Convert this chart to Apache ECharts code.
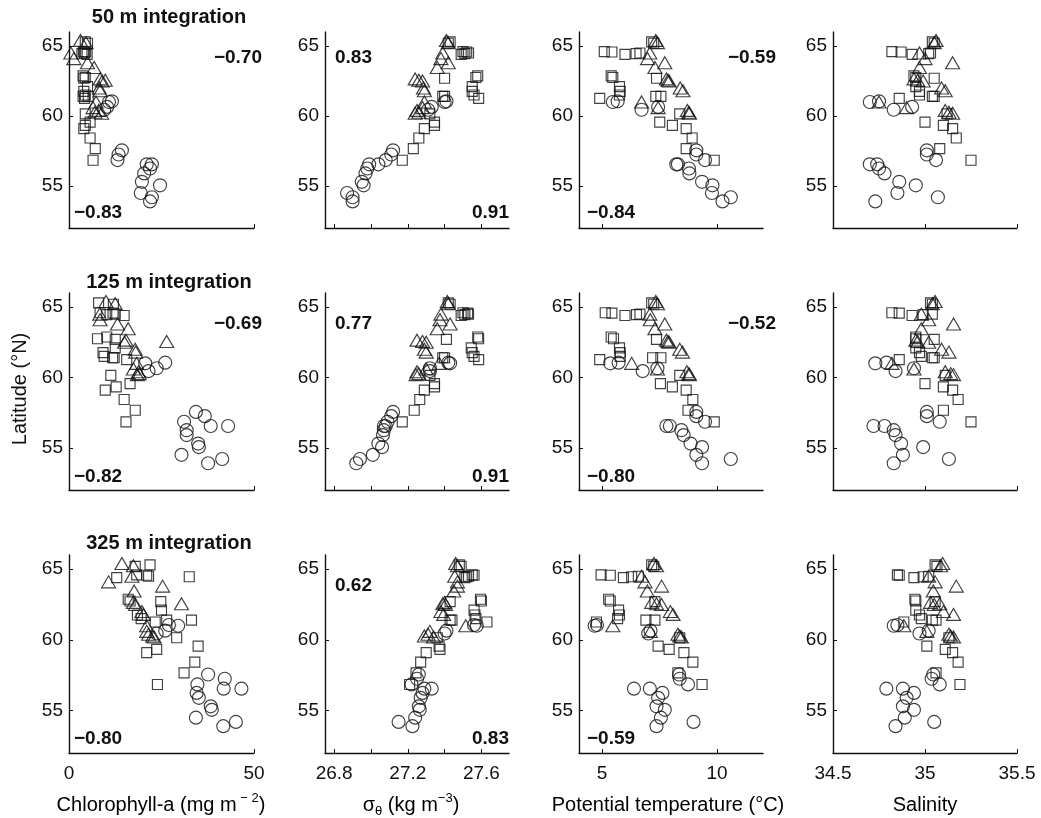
<!DOCTYPE html>
<html><head><meta charset="utf-8">
<script src="https://cdn.jsdelivr.net/npm/echarts@6/dist/echarts.min.js"></script>
<style>html,body{margin:0;padding:0;background:#fff}#c{width:1041px;height:818px}</style>
</head><body><div id="c"></div>
<script>
// Station latitudes (°N) for the three station groups (circles, squares, triangles)
const latC = [61.0, 61.05, 60.45, 60.65, 57.55, 57.25, 56.85, 56.55, 56.55, 56.25, 55.9, 55.3, 55.05, 54.5, 53.9, 54.2];
const latS = [64.6, 64.57, 64.4, 64.46, 64.5, 65.3, 65.2, 62.87, 62.75, 62.7, 62.1, 61.76, 61.5, 61.26, 61.4, 61.4, 59.56, 59.33, 60.15, 59.1, 58.43, 57.67, 56.84];
const latT = [65.4, 65.24, 64.5, 64.1, 63.8, 63.46, 62.65, 62.55, 62.5, 62.0, 61.8, 61.0, 60.6, 60.4, 60.27, 60.2];

// 50 m integration
const chl50C = [10.8, 11.6, 9.5, 10.3, 14.3, 13.4, 13.1, 21.0, 22.4, 21.9, 20.3, 19.7, 24.6, 19.4, 21.9, 22.4];
const chl50S = [3.9, 4.5, 4.9, 3.5, 4.2, 4.4, 5.0, 3.8, 4.4, 4.0, 5.0, 4.0, 4.4, 4.2, 3.8, 5.2, 5.7, 4.4, 4.4, 4.0, 5.7, 7.1, 6.5];
const chl50T = [3.1, 4.6, 0.5, 1.3, 5.0, 6.8, 8.4, 9.8, 9.0, 8.2, 8.4, 7.3, 6.5, 8.0, 7.0, 8.8];
const sig50C = [27.40, 27.41, 27.31, 27.33, 27.12, 27.11, 27.08, 27.04, 26.99, 26.98, 26.97, 26.95, 26.96, 26.87, 26.90, 26.90];
const sig50S = [27.50, 27.52, 27.49, 27.51, 27.53, 27.43, 27.42, 27.58, 27.57, 27.40, 27.55, 27.55, 27.56, 27.585, 27.39, 27.40, 27.345, 27.345, 27.32, 27.29, 27.26, 27.23, 27.17];
const sig50T = [27.41, 27.42, 27.39, 27.38, 27.42, 27.36, 27.24, 27.26, 27.28, 27.285, 27.29, 27.29, 27.28, 27.25, 27.26, 27.24];
const tem50C = [5.47, 5.68, 6.72, 7.44, 9.1, 9.1, 9.48, 8.23, 8.3, 8.78, 8.8, 9.35, 9.8, 9.78, 10.24, 10.6];
const tem50S = [5.1, 5.43, 6.0, 6.48, 6.65, 7.16, 7.25, 5.4, 5.47, 7.37, 5.76, 5.79, 5.76, 4.9, 7.34, 7.56, 7.51, 8.06, 8.38, 8.66, 8.92, 8.66, 9.88];
const tem50T = [7.34, 7.41, 7.08, 6.98, 7.73, 7.30, 7.80, 7.87, 7.92, 8.4, 8.52, 6.72, 7.44, 8.71, 8.78, 8.8];
const sal50C = [34.70, 34.75, 34.83, 34.93, 35.01, 35.01, 35.06, 34.70, 34.74, 34.75, 34.78, 34.86, 34.95, 34.85, 34.73, 35.07];
const sal50S = [34.82, 34.87, 34.93, 35.02, 35.03, 35.04, 35.05, 34.94, 34.95, 35.05, 34.95, 34.97, 34.97, 34.86, 35.04, 35.05, 35.0, 35.10, 35.12, 35.15, 35.17, 35.08, 35.25];
const sal50T = [35.06, 35.05, 34.97, 35.0, 35.15, 34.97, 34.94, 34.96, 34.99, 35.09, 35.11, 34.75, 34.90, 35.11, 35.13, 35.15];

// 125 m integration
const chl125C = [20.6, 26.0, 21.5, 23.7, 34.3, 36.7, 31.1, 38.3, 43.0, 31.8, 31.8, 34.9, 35.1, 30.4, 37.6, 41.4];
const chl125S = [8.4, 11.9, 14.9, 10.2, 12.5, 8.0, 12.0, 10.2, 7.7, 12.5, 12.5, 9.2, 9.5, 15.6, 12.2, 11.8, 16.5, 12.75, 11.3, 9.8, 14.9, 17.9, 15.4];
const chl125T = [10.0, 12.5, 8.3, 8.4, 13.1, 16.0, 15.4, 26.4, 15.0, 17.9, 18.0, 18.3, 17.4, 18.8, 19.0, 18.5];
const sig125C = [27.43, 27.42, 27.32, 27.32, 27.12, 27.11, 27.09, 27.08, 27.07, 27.07, 27.065, 27.04, 27.06, 27.01, 26.92, 26.94];
const sig125S = [27.50, 27.525, 27.49, 27.51, 27.53, 27.42, 27.43, 27.58, 27.585, 27.41, 27.545, 27.55, 27.56, 27.585, 27.39, 27.40, 27.345, 27.345, 27.32, 27.29, 27.265, 27.235, 27.17];
const sig125T = [27.415, 27.42, 27.38, 27.375, 27.43, 27.36, 27.25, 27.28, 27.30, 27.29, 27.30, 27.37, 27.30, 27.25, 27.26, 27.245];
const tem125C = [5.36, 5.72, 6.77, 7.41, 9.1, 9.1, 9.48, 7.8, 7.95, 8.45, 8.55, 8.85, 9.35, 9.1, 9.35, 10.6];
const tem125S = [5.14, 5.43, 6.0, 6.5, 6.65, 7.16, 7.25, 5.4, 5.5, 7.37, 5.76, 5.79, 5.79, 4.9, 7.2, 7.56, 7.54, 8.06, 8.38, 8.66, 8.95, 8.74, 9.88];
const tem125T = [7.34, 7.41, 7.08, 7.1, 7.73, 7.30, 7.80, 7.87, 7.92, 8.38, 8.5, 6.29, 7.41, 8.69, 8.78, 8.8];
const sal125C = [34.73, 34.79, 34.84, 34.94, 35.01, 35.01, 35.08, 34.72, 34.78, 34.83, 34.84, 34.87, 34.99, 34.88, 34.83, 35.13];
const sal125S = [34.82, 34.86, 34.93, 34.99, 35.04, 35.03, 35.04, 34.95, 34.95, 35.05, 34.95, 34.97, 34.98, 34.86, 35.04, 35.05, 35.0, 35.10, 35.11, 35.15, 35.18, 35.10, 35.25];
const sal125T = [35.055, 35.04, 34.98, 35.02, 35.155, 34.98, 34.95, 34.96, 35.02, 35.09, 35.13, 34.82, 34.94, 35.11, 35.14, 35.155];

// 325 m integration
const chl325C = [29.5, 27.0, 23.7, 26.0, 37.6, 42.1, 34.7, 41.8, 46.6, 34.5, 35.1, 38.3, 38.6, 34.3, 41.7, 45.1];
const chl325S = [18.3, 21.0, 12.9, 32.5, 21.5, 21.9, 17.9, 16.0, 16.5, 24.8, 25.0, 18.5, 19.5, 23.3, 26.4, 33.1, 34.9, 23.7, 29.1, 21.0, 34.0, 31.1, 23.9];
const chl325T = [14.3, 17.4, 17.0, 10.7, 25.3, 17.6, 17.4, 30.4, 18.0, 19.7, 20.1, 21.0, 21.0, 21.5, 22.6, 23.0];
const sig325C = [27.575, 27.56, 27.40, 27.41, 27.26, 27.25, 27.22, 27.33, 27.29, 27.28, 27.27, 27.26, 27.265, 27.24, 27.225, 27.15];
const sig325S = [27.55, 27.56, 27.51, 27.52, 27.53, 27.48, 27.49, 27.595, 27.60, 27.43, 27.56, 27.565, 27.57, 27.63, 27.43, 27.44, 27.37, 27.375, 27.36, 27.30, 27.27, 27.245, 27.21];
const sig325T = [27.46, 27.47, 27.455, 27.47, 27.47, 27.45, 27.40, 27.39, 27.405, 27.38, 27.395, 27.515, 27.32, 27.31, 27.29, 27.34];
const tem325C = [4.68, 4.78, 7.01, 7.11, 8.35, 8.38, 8.74, 6.39, 7.08, 7.63, 7.44, 7.37, 7.73, 7.56, 7.37, 8.98];
const tem325S = [4.96, 5.36, 5.93, 6.29, 6.58, 7.16, 7.25, 5.29, 5.36, 7.3, 5.72, 5.76, 5.68, 4.76, 6.91, 7.3, 7.44, 7.92, 8.38, 8.56, 8.95, 8.3, 9.35];
const tem325T = [7.26, 7.37, 6.72, 6.87, 7.59, 6.97, 7.16, 7.37, 7.59, 7.97, 8.09, 5.47, 7.1, 8.3, 8.38, 8.45];
const sal325C = [34.83, 34.85, 34.97, 35.02, 35.045, 35.036, 35.08, 34.79, 34.88, 34.94, 34.9, 34.88, 34.94, 34.89, 34.84, 35.05];
const sal325S = [34.85, 34.86, 34.94, 34.99, 35.02, 35.055, 35.065, 34.945, 34.95, 35.055, 34.95, 34.97, 34.98, 34.885, 35.04, 35.06, 35.01, 35.11, 35.13, 35.15, 35.18, 35.06, 35.19];
const sal325T = [35.096, 35.085, 35.02, 35.055, 35.17, 35.045, 35.03, 35.08, 35.05, 35.1, 35.155, 34.885, 35.01, 35.13, 35.14, 35.155];

// Axis ranges and ticks
const yRange = [52, 66];
const yTicks = [55, 60, 65];
const xRanges = [[0, 50], [26.75, 27.75], [4, 12], [34.5, 35.5]];
const xTicks = [[0, 50], [26.8, 27.0, 27.2, 27.4, 27.6], [5, 10], [34.5, 35, 35.5]];
const xTickLabels = [[0, 50], [26.8, 27.2, 27.6], [5, 10], [34.5, 35, 35.5]];
const rowTitles = ['50 m integration', '125 m integration', '325 m integration'];
// correlation labels per panel: [upper, lower]
const corrTop = [['\u22120.70', '0.83', '\u22120.59', ''], ['\u22120.69', '0.77', '\u22120.52', ''], ['', '0.62', '', '']];
const corrBottom = [['\u22120.83', '0.91', '\u22120.84', ''], ['\u22120.82', '0.91', '\u22120.80', ''], ['\u22120.80', '0.83', '\u22120.59', '']];

const panels = [
  [[chl50C, chl50S, chl50T], [sig50C, sig50S, sig50T], [tem50C, tem50S, tem50T], [sal50C, sal50S, sal50T]],
  [[chl125C, chl125S, chl125T], [sig125C, sig125S, sig125T], [tem125C, tem125S, tem125T], [sal125C, sal125S, sal125T]],
  [[chl325C, chl325S, chl325T], [sig325C, sig325S, sig325T], [tem325C, tem325S, tem325T], [sal325C, sal325S, sal325T]]
];
const lats = [latC, latS, latT];

// Layout
const colLeft = [69, 325, 579, 833];
const colW = [185, 184, 184, 184];
const rowTop = [32, 293, 555];
const rowH = [196, 197, 198];
const titleY = [17, 282, 543];
const corrTopOff = [26, 31, 31];
const corrBotOff = [15, 13, 14];
const rightPad = [8, 0, 13, 0];
const leftPad = [5, 10, 8, 0];
const FONT = '"Liberation Sans", Arial, Helvetica, sans-serif';
const INK = '#111';
const symbols = [['circle', 13], ['rect', 10], ['triangle', [14, 12]]];

const grids = [], xAxes = [], yAxes = [], series = [], graphics = [];
for (let r = 0; r < 3; r++) {
  for (let c = 0; c < 4; c++) {
    const idx = r * 4 + c;
    grids.push({left: colLeft[c], top: rowTop[r], width: colW[c], height: rowH[r]});
    xAxes.push({
      type: 'value', gridIndex: idx, min: xRanges[c][0], max: xRanges[c][1],
      axisLine: {show: true, onZero: false, lineStyle: {color: INK, width: 1.4}},
      axisTick: {show: true, inside: true, length: 4, customValues: xTicks[c], lineStyle: {color: INK}},
      axisLabel: {show: r === 2, customValues: xTickLabels[c], margin: 11, color: '#111', fontSize: 19, fontFamily: FONT,
        formatter: v => String(Math.round(v * 10) / 10)},
      splitLine: {show: false}
    });
    yAxes.push({
      type: 'value', gridIndex: idx, min: yRange[0], max: yRange[1],
      axisLine: {show: true, onZero: false, lineStyle: {color: INK, width: 1.4}},
      axisTick: {show: true, inside: true, length: 4, customValues: yTicks, lineStyle: {color: INK}},
      axisLabel: {show: true, customValues: yTicks, margin: 6, color: '#111', fontSize: 19, fontFamily: FONT},
      splitLine: {show: false}
    });
    for (let g = 0; g < 3; g++) {
      const xs = panels[r][c][g];
      series.push({
        type: 'scatter', xAxisIndex: idx, yAxisIndex: idx,
        symbol: symbols[g][0], symbolSize: symbols[g][1],
        itemStyle: {color: 'rgba(0,0,0,0)', borderColor: '#111', borderWidth: 1.15},
        data: xs.map((x, i) => [x, lats[g][i]]),
        silent: true
      });
    }
    // correlation labels
    if (corrTop[r][c]) {
      const leftAligned = (c === 1);
      graphics.push({type: 'text', x: leftAligned ? colLeft[c] + leftPad[c] : colLeft[c] + colW[c] + rightPad[c], y: rowTop[r] + corrTopOff[r],
        style: {text: corrTop[r][c], fontSize: 19, fontWeight: 'bold', fontFamily: FONT, fill: '#111',
          textAlign: leftAligned ? 'left' : 'right', textVerticalAlign: 'middle'}});
    }
    if (corrBottom[r][c]) {
      const rightAligned = (c === 1);
      graphics.push({type: 'text', x: rightAligned ? colLeft[c] + colW[c] : colLeft[c] + leftPad[c], y: rowTop[r] + rowH[r] - corrBotOff[r],
        style: {text: corrBottom[r][c], fontSize: 19, fontWeight: 'bold', fontFamily: FONT, fill: '#111',
          textAlign: rightAligned ? 'right' : 'left', textVerticalAlign: 'middle'}});
    }
  }
  graphics.push({type: 'text', x: 169, y: titleY[r],
    style: {text: rowTitles[r], fontSize: 20, fontWeight: 'bold', fontFamily: FONT, fill: '#111',
      textAlign: 'center', textVerticalAlign: 'middle'}});
}

// axis names
const richBase = {
  a: {fontSize: 20, fontFamily: FONT, color: '#111', lineHeight: 26},
  sup: {fontSize: 13, fontFamily: FONT, color: '#111', lineHeight: 14, verticalAlign: 'top'},
  sub: {fontSize: 13, fontFamily: FONT, color: '#111', lineHeight: 14, verticalAlign: 'bottom'}
};
const xNames = [
  '{a|Chlorophyll-a (mg m}{sup| \u2212 2}{a|)}',
  '{a|\u03c3}{sub|\u03b8}{a| (kg m}{sup|\u22123}{a|)}',
  '{a|Potential temperature (\u00b0C)}',
  '{a|Salinity}'
];
const xNameCenters = [161, 411, 668, 925];
for (let c = 0; c < 4; c++) {
  graphics.push({type: 'text', x: xNameCenters[c], y: 805,
    style: {text: xNames[c], rich: richBase, textAlign: 'center', textVerticalAlign: 'middle'}});
}
graphics.push({type: 'text', x: 20, y: 389, rotation: Math.PI / 2,
  style: {text: 'Latitude (\u00b0N)', fontSize: 20, fontFamily: FONT, fill: '#111', textAlign: 'center', textVerticalAlign: 'middle'}});

const chart = echarts.init(document.getElementById('c'), null, {renderer: 'canvas'});
chart.setOption({
  animation: false,
  backgroundColor: '#fff',
  grid: grids, xAxis: xAxes, yAxis: yAxes, series: series,
  graphic: graphics
});
</script>
</body></html>
